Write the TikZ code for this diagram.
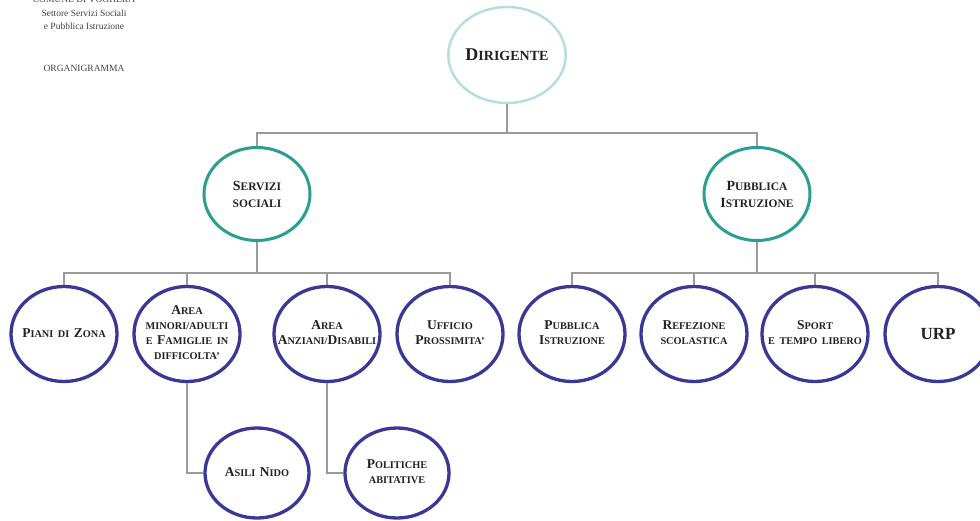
\documentclass[tikz,border=0pt]{standalone}
\usepackage{fontspec}
\setmainfont{Liberation Serif}
\usetikzlibrary{shapes.geometric}
\definecolor{topring}{HTML}{B3DDE0}
\definecolor{midring}{HTML}{2A9E92}
\definecolor{leafring}{HTML}{3A3896}
\definecolor{linkgrey}{HTML}{9A9A9A}
\definecolor{ink}{HTML}{222222}
% larger initial capital inside a hand-made small-caps label
\newcommand{\Bg}[1]{{\fontsize{\capsize}{12}\selectfont #1}}
% centred text block that never widens its bubble
\newcommand{\Lbl}[1]{\makebox[0pt]{\spaceskip=4.5pt plus 1pt\relax
  \raisebox{-3pt}{\begin{tabular}{@{}c@{}}#1\end{tabular}}}}
\tikzset{
  bubble/.style={ellipse, draw, fill=white, text=ink, inner sep=0pt},
  topbox/.style={bubble, draw=topring, line width=2.4pt,
    minimum width=106pt, minimum height=96pt,
    font=\bfseries\fontsize{14}{18}\selectfont\def\capsize{18}},
  midbox/.style={bubble, align=center, draw=midring, line width=3pt,
    minimum width=106pt, minimum height=93pt,
    font=\bfseries\fontsize{11.5}{17}\selectfont\def\capsize{14}},
  leafbox/.style={bubble, draw=leafring, line width=3.3pt,
    minimum width=106pt, minimum height=95pt,
    font=\bfseries\fontsize{10.3}{15}\selectfont\def\capsize{13.5}},
  subbox/.style={leafbox, minimum width=104pt, minimum height=90pt},
  conn/.style={draw=linkgrey, line width=1.4pt},
  headtxt/.style={text=ink!85, font=\fontsize{9.5}{11}\selectfont, inner sep=0pt}
}
\begin{document}
\begin{tikzpicture}[x=1pt,y=-1pt]
\useasboundingbox[fill=white] (0,0) rectangle (980,520);

% heading
\node[headtxt] (h0) at (84,-1) {COMUNE DI VOGHERA};
\node[headtxt] (h1) at (84,13) {Settore Servizi Sociali};
\node[headtxt] (h2) at (84,26) {e Pubblica Istruzione};
\node[headtxt] (h3) at (84,68) {ORGANIGRAMMA};

% junction points of the connector buses
\coordinate (bus1) at (507,133);
\coordinate (bus2) at (257,273);
\coordinate (bus3) at (757,273);

% top level
\node[topbox] (dir) at (507,55) {\Bg{D}IRIGENTE};

% second level
\node[midbox] (ss) at (257,194) {\Bg{S}ERVIZI\\SOCIALI};
\node[midbox] (pi) at (757,194) {\Bg{P}UBBLICA\\\Bg{I}STRUZIONE};

% third level, social services
\node[leafbox] (c1) at (64,334) {\Lbl{\Bg{P}IANI DI \Bg{Z}ONA}};
\node[leafbox] (c2) at (187,334) {\Lbl{\Bg{A}REA\\MINORI/ADULTI\\E \Bg{F}AMIGLIE IN\\DIFFICOLTA'}};
\node[leafbox] (c3) at (327,334) {\Lbl{\Bg{A}REA\\\Bg{A}NZIANI/\Bg{D}ISABILI}};
\node[leafbox] (c4) at (450,334) {\Lbl{\Bg{U}FFICIO\\\Bg{P}ROSSIMITA'}};

% third level, public education
\node[leafbox] (e1) at (572,334) {\Lbl{\Bg{P}UBBLICA\\\Bg{I}STRUZIONE}};
\node[leafbox] (e2) at (694,334) {\Lbl{\Bg{R}EFEZIONE\\SCOLASTICA}};
\node[leafbox] (e3) at (815,334) {\Lbl{\Bg{S}PORT\\E TEMPO LIBERO}};
\node[leafbox, font=\bfseries\fontsize{17}{18}\selectfont] (e4) at (938,334) {URP};

% fourth level
\node[subbox] (s1) at (257,473) {\Lbl{\Bg{A}SILI \Bg{N}IDO}};
\node[subbox] (s2) at (397,473) {\Lbl{\Bg{P}OLITICHE\\ABITATIVE}};

% connectors
\draw[conn] (dir.south) -- (bus1);
\draw[conn] (ss.north) |- (bus1) -| (pi.north);

\draw[conn] (ss.south) -- (bus2);
\draw[conn] (c1.north) |- (bus2) -| (c4.north);
\draw[conn] (c2.north) -- (c2.north |- bus2);
\draw[conn] (c3.north) -- (c3.north |- bus2);

\draw[conn] (pi.south) -- (bus3);
\draw[conn] (e1.north) |- (bus3) -| (e4.north);
\draw[conn] (e2.north) -- (e2.north |- bus3);
\draw[conn] (e3.north) -- (e3.north |- bus3);

\draw[conn] (c2.south) |- (s1.west);
\draw[conn] (c3.south) |- (s2.west);
\end{tikzpicture}
\end{document}
